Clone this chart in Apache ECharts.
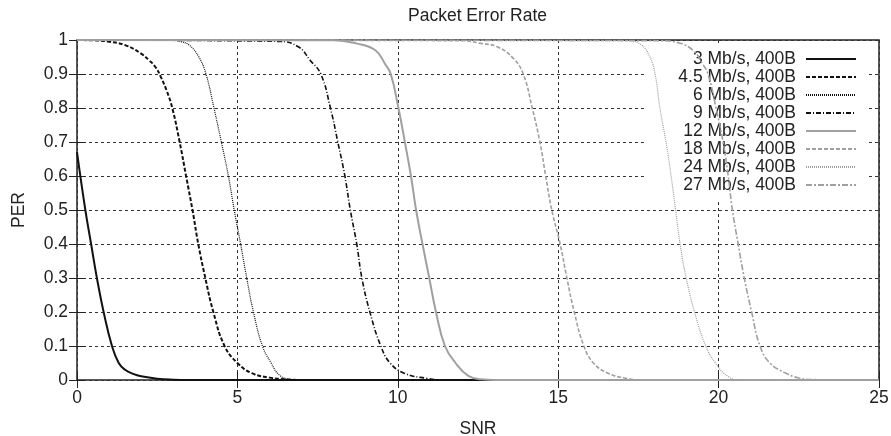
<!DOCTYPE html>
<html>
<head>
<meta charset="utf-8">
<title>Packet Error Rate</title>
<script src="https://cdn.jsdelivr.net/npm/echarts@6/dist/echarts.min.js"></script>
<style>
    html, body { margin: 0; padding: 0; background: #fff; }
    #chart { width: 891px; height: 436px; }
</style>
</head>
<body>
<div id="chart"></div>
<script>
// PER vs SNR: [snr, per]
const names = ['3 Mb/s, 400B', '4.5 Mb/s, 400B', '6 Mb/s, 400B', '9 Mb/s, 400B',
    '12 Mb/s, 400B', '18 Mb/s, 400B', '24 Mb/s, 400B', '27 Mb/s, 400B'];

const per3 = [[0, 0.67], [0.26, 0.5], [0.44, 0.4], [0.62, 0.3], [0.83, 0.2], [1.09, 0.1],
    [1.3, 0.05], [1.5, 0.03], [1.75, 0.018], [2, 0.011], [2.5, 0.004], [3, 0.001], [3.5, 0], [25, 0]];
const per45 = [[0, 1], [0.5, 0.999], [1, 0.995], [1.5, 0.985], [2, 0.96], [2.25, 0.94], [2.45, 0.92],
    [2.62, 0.89], [2.8, 0.85], [2.97, 0.8], [3.2, 0.7], [3.4, 0.6], [3.6, 0.5], [3.78, 0.4], [4, 0.3],
    [4.25, 0.2], [4.6, 0.1], [5, 0.05], [5.45, 0.02], [6, 0.007], [6.5, 0.002], [7, 0], [25, 0]];
const per6 = [[0, 1], [3, 0.999], [3.22, 0.996], [3.5, 0.985], [3.8, 0.95], [4.02, 0.9], [4.27, 0.8],
    [4.5, 0.7], [4.72, 0.6], [4.9, 0.5], [5.1, 0.4], [5.29, 0.3], [5.5, 0.2], [5.78, 0.1],
    [6.05, 0.05], [6.3, 0.015], [6.6, 0.003], [7, 0], [25, 0]];
const per9 = [[0, 1], [6.3, 0.996], [6.9, 0.98], [7.27, 0.94], [7.6, 0.9], [7.9, 0.8], [8.13, 0.7],
    [8.35, 0.6], [8.52, 0.5], [8.72, 0.4], [8.88, 0.3], [9.13, 0.2], [9.47, 0.1], [9.76, 0.05],
    [10.2, 0.02], [10.9, 0.005], [11.5, 0], [25, 0]];
const per12 = [[0, 1], [8, 0.999], [8.7, 0.99], [9.3, 0.97], [9.6, 0.93], [9.78, 0.9], [10.02, 0.8],
    [10.22, 0.7], [10.41, 0.6], [10.57, 0.5], [10.77, 0.4], [10.98, 0.3], [11.19, 0.2], [11.47, 0.1],
    [11.8, 0.05], [12.2, 0.012], [12.6, 0.002], [13, 0], [25, 0]];
const per18 = [[0, 1], [12, 0.998], [12.6, 0.99], [13.1, 0.98], [13.6, 0.946], [13.91, 0.9],
    [14.19, 0.8], [14.43, 0.7], [14.61, 0.6], [14.8, 0.5], [15.06, 0.4], [15.27, 0.3], [15.5, 0.2],
    [15.8, 0.1], [16.1, 0.05], [16.55, 0.02], [17.1, 0.005], [17.6, 0], [25, 0]];
const per24 = [[0, 1], [17.2, 0.998], [17.6, 0.985], [17.86, 0.95], [18.02, 0.9], [18.17, 0.8],
    [18.36, 0.7], [18.52, 0.6], [18.66, 0.5], [18.8, 0.4], [18.99, 0.3], [19.25, 0.2], [19.6, 0.1],
    [19.9, 0.05], [20.3, 0.01], [20.7, 0], [25, 0]];
const per27 = [[0, 1], [18.2, 0.998], [18.7, 0.993], [19.2, 0.97], [19.5, 0.93], [19.67, 0.9],
    [19.92, 0.8], [20.14, 0.7], [20.3, 0.6], [20.43, 0.5], [20.61, 0.4], [20.8, 0.3], [21.03, 0.2],
    [21.29, 0.1], [21.6, 0.05], [22.1, 0.02], [22.5, 0.006], [23, 0.001], [23.5, 0], [25, 0]];

const curves = [per3, per45, per6, per9, per12, per18, per24, per27];

const BLACK = '#111';
const GREY = '#a0a0a0';
const FONT = '"Liberation Sans", Arial, Helvetica, sans-serif';
const TEXT = '#222';

// gnuplot-like line styles for each curve
const styles = [
    { color: BLACK, width: 2, type: 'solid' },
    { color: BLACK, width: 2, type: [4, 2] },
    { color: BLACK, width: 1.2, type: [1, 1] },
    { color: BLACK, width: 1.6, type: [5, 2, 1, 2] },
    { color: GREY, width: 2, type: 'solid' },
    { color: GREY, width: 1.6, type: [4, 2] },
    { color: GREY, width: 1.2, type: [1, 1] },
    { color: GREY, width: 1.6, type: [6, 2, 2, 2] }
];

let series = curves.map((data, i) => ({
    name: names[i],
    type: 'line',
    data: data,
    smooth: 0.45,
    symbol: 'none',
    z: 3,
    color: styles[i].color,
    lineStyle: styles[i]
}));

let gridDash = { color: '#333', width: 1, type: [3, 3] };

let option = {
    animation: false,
    backgroundColor: '#fff',
    title: {
        text: 'Packet Error Rate',
        left: 403,
        top: 2,
        textStyle: { fontFamily: FONT, fontSize: 17.5, fontWeight: 'normal', color: TEXT }
    },
    grid: {
        left: 77, right: 12, top: 40, bottom: 56,
        containLabel: false,
        outerBoundsMode: 'none',
        show: true, borderColor: '#222', borderWidth: 1.5
    },
    legend: {
        orient: 'vertical',
        right: 24,
        top: 46,
        align: 'right',
        itemWidth: 50,
        itemHeight: 14,
        itemGap: 0,
        padding: [4, 10, 6, 0],
        backgroundColor: '#fff',
        itemStyle: { opacity: 0 },
        z: 1,
        data: names,
        formatter: '{t|{name}}',
        textStyle: {
            rich: {
                t: { width: 150, align: 'right', padding: [0, 5, 0, 0], fontSize: 17.5, lineHeight: 14, fontFamily: FONT, color: TEXT }
            }
        }
    },
    xAxis: [{
        type: 'value', min: 0, max: 25, interval: 5,
        name: 'SNR', nameLocation: 'middle', nameGap: 40,
        nameTextStyle: { fontFamily: FONT, fontSize: 17.5, color: TEXT },
        axisLine: { show: false },
        axisTick: { show: true, inside: true, length: 8, lineStyle: { color: '#222' } },
        axisLabel: { margin: 9, fontFamily: FONT, fontSize: 17.5, color: TEXT },
        splitLine: { show: true, lineStyle: gridDash }
    }, {
        type: 'value', min: 0, max: 25, interval: 5, position: 'top', z: 3,
        axisLine: { show: false },
        axisTick: { show: true, inside: true, length: 8, lineStyle: { color: '#222' } },
        axisLabel: { show: false },
        splitLine: { show: false }
    }],
    yAxis: [{
        type: 'value', min: 0, max: 1, interval: 0.1,
        name: 'PER', nameLocation: 'middle', nameGap: 49,
        nameTextStyle: { fontFamily: FONT, fontSize: 17.5, color: TEXT },
        axisLine: { show: false },
        axisTick: { show: true, inside: true, length: 8, lineStyle: { color: '#222' } },
        axisLabel: { margin: 9, fontFamily: FONT, fontSize: 17.5, color: TEXT },
        splitLine: { show: true, lineStyle: gridDash }
    }, {
        type: 'value', min: 0, max: 1, interval: 0.1, position: 'right', z: 3,
        axisLine: { show: false },
        axisTick: { show: true, inside: true, length: 8, lineStyle: { color: '#222' } },
        axisLabel: { show: false },
        splitLine: { show: false }
    }],
    series: series
};

let chart = echarts.init(document.getElementById('chart'), null, { renderer: 'canvas' });
chart.setOption(option);
</script>
</body>
</html>
